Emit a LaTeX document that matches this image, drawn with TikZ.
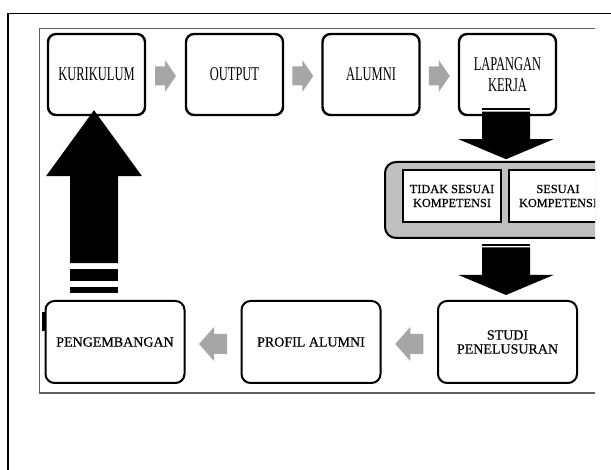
\documentclass[tikz,border=0pt]{standalone}
\usepackage{fontspec}
\setmainfont{Liberation Serif}
\newfontfamily\condfont[FakeStretch=0.64]{Liberation Serif}
\newfontfamily\heavyfont[FakeBold=0.6]{Liberation Serif}
\usetikzlibrary{calc}
\definecolor{arrowgray}{RGB}{166,166,166}
\definecolor{panelgray}{RGB}{192,192,192}
\definecolor{framegray}{RGB}{95,95,95}
\tikzset{
  topbox/.style={draw, line width=2.4pt, rounded corners=8pt, minimum width=97pt, minimum height=81pt, inner sep=0pt, align=center, font=\condfont\fontsize{19.5}{21}\selectfont},
  botbox/.style={draw, line width=2pt, rounded corners=9pt, minimum width=139pt, minimum height=82pt, inner sep=0pt, align=center, font=\heavyfont\fontsize{14}{14}\selectfont},
  inbox/.style={draw, line width=1.5pt, fill=white, minimum width=98pt, minimum height=52pt, inner sep=0pt, align=center, font=\heavyfont\fontsize{12.3}{14}\selectfont},
  panel/.style={draw, line width=2pt, fill=panelgray, rounded corners=11pt, minimum width=255pt, minimum height=76pt, inner sep=0pt},
  grayR/.pic={\fill[arrowgray] (-10.5,-9.5) -- (-0.5,-9.5) -- (-0.5,-16) -- (10.5,0) -- (-0.5,16) -- (-0.5,9.5) -- (-10.5,9.5) -- cycle;},
  grayL/.pic={\fill[arrowgray] (14,-10) -- (1,-10) -- (1,-17) -- (-14,0) -- (1,17) -- (1,10) -- (14,10) -- cycle;},
  blackD/.pic={\fill[black] (-24,0) rectangle (24,2);
               \fill[black] (-24,3.5) -- (24,3.5) -- (24,31) -- (47.5,31) -- (0,51) -- (-47.5,31) -- (-24,31) -- cycle;},
  blackU/.pic={\fill[black] (0,0) -- (48,66) -- (24,66) -- (24,153) -- (-24,153) -- (-24,66) -- (-48,66) -- cycle;
               \fill[black] (-24,159) rectangle (24,171);
               \fill[black] (-24,177) rectangle (24,183);}
}
\begin{document}
\begin{tikzpicture}[x=1pt,y=-1pt]
\useasboundingbox (0,0) rectangle (611,470);
% outer frame
\draw[line width=1.5pt] (8,480) -- (8,13.5) -- (620,13.5);
% inner frame
\draw[framegray, line width=1.1pt] (595,28.5) -- (39.5,28.5) -- (39.5,393) -- (595,393);
\begin{scope}
\clip (0,0) rectangle (595,470);
% top row
\node[topbox] (kur) at (96.5,74.5) {KURIKULUM};
\node[topbox] (out) at (234.5,74.5) {OUTPUT};
\node[topbox] (alu) at (371,74.5) {ALUMNI};
\node[topbox] (lap) at (507.5,74.5) {LAPANGAN\\KERJA};
\pic at ($(kur.east)!0.5!(out.west)+(0,1.5)$) {grayR};
\pic at ($(out.east)!0.5!(alu.west)+(0,1.5)$) {grayR};
\pic at ($(alu.east)!0.5!(lap.west)+(0,1.5)$) {grayR};
% panel with competence boxes
\node[panel] (grp) at (512.5,200) {};
\node[inbox] (tidak) at (452,196) {TIDAK SESUAI\\KOMPETENSI};
\node[inbox] (sesuai) at (558,196) {SESUAI\\KOMPETENSI};
\pic at ($(lap.south)+(-1.5,-8)$) {blackD};
\pic at ($(grp.south)+(-6.5,5)$) {blackD};
% bottom row
\node[botbox] (pen) at (115,342) {PENGEMBANGAN};
\node[botbox] (pro) at (311,342) {PROFIL ALUMNI};
\node[botbox] (stu) at (507.5,342) {STUDI\\PENELUSURAN};
\pic at ($(pen.east)!0.5!(pro.west)+(0,2)$) {grayL};
\pic at ($(pro.east)!0.5!(stu.west)+(0,2)$) {grayL};
\fill[black] ($(pen.west)+(-2.5,-30)$) rectangle ($(pen.west)+(1,-11)$);
% upward arrow
\pic at ($(kur.south)+(-2.5,-6)$) {blackU};
\end{scope}
\end{tikzpicture}
\end{document}
